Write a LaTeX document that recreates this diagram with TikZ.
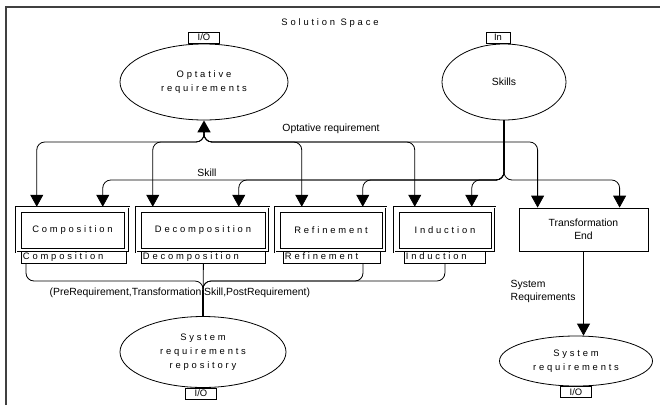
\documentclass[tikz,border=0pt]{standalone}
\usepackage{fontspec}
\setmainfont{Liberation Sans}
\newfontfamily\spaced[LetterSpace=30]{Liberation Sans}
\usetikzlibrary{arrows.meta,shapes.geometric,positioning,calc}
\newcommand{\fs}{\fontsize{9.4}{14}\selectfont}
\newcommand{\fp}{\fontsize{10.4}{13}\selectfont}
\tikzstyle{blob} = [ellipse, draw, fill=white, align=center, inner sep=0pt, font=\fs\spaced]
\tikzstyle{tag} = [draw, fill=white, inner sep=1pt, minimum height=11pt, text height=7pt, text depth=1pt, font=\fs]
\tikzstyle{outer} = [draw, double=white, double distance=0.9pt, line width=0.5pt]
\tikzstyle{inner} = [draw, font=\fs\spaced]
\tikzstyle{lab} = [draw, fill=white, anchor=north west, inner sep=1.5pt, text height=7pt, text depth=1.5pt, align=left, font=\fs\spaced]
\tikzstyle{bus} = [rounded corners=8pt]
\tikzstyle{trunk} = [line width=1.7pt]
\tikzstyle{arrow} = [-{Triangle[width=13pt,length=12pt]}]

\begin{document}
\begin{tikzpicture}[x=1pt,y=-1pt,line width=0.8pt,font=\fp]
\useasboundingbox (0,0) rectangle (660,405);
\draw[line width=1.3pt, black!75] (6,405) -- (6,7) -- (660,7);
\node[font=\fs] (title) at (330,23) {\spaced Solution Space};
% stores at the top
\node[blob, minimum width=168pt, minimum height=76pt] (optreq) at (204,82) {Optative\\requirements};
\node[tag, anchor=south, minimum width=31pt] (opttag) at (optreq.north) {I/O};
\node[blob, font=\fp, minimum width=124pt, minimum height=76pt] (skills) at (504,82) {Skills};
\node[tag, anchor=south, minimum width=24pt] (skilltag) at ($(skills.north)+(-6,0)$) {In};
% transformations
\node[outer, minimum width=113pt, minimum height=45pt] (comp) at (72.5,229.5) {};
\node[inner, minimum width=103pt, minimum height=36pt] (compin) at (72.5,230) {Composition};
\node[lab, text width=102pt] (complab) at (21,251) {Composition};
\node[outer, minimum width=133pt, minimum height=45pt] (decomp) at (202.5,229.5) {};
\node[inner, minimum width=124pt, minimum height=36pt] (decompin) at (203,230) {Decomposition};
\node[lab, text width=121pt] (decomplab) at (141,251) {Decomposition};
\node[outer, minimum width=111pt, minimum height=45pt] (refine) at (330.5,229.5) {};
\node[inner, minimum width=102pt, minimum height=36pt] (refinein) at (331,230) {Refinement};
\node[lab, text width=94pt] (refinelab) at (283,251) {Refinement};
\node[outer, minimum width=101pt, minimum height=45pt] (induct) at (444.5,229.5) {};
\node[inner, minimum width=92pt, minimum height=36pt] (inductin) at (445,230) {Induction};
\node[lab, text width=78pt] (inductlab) at (404,251) {Induction};
\node[draw, align=center, minimum width=129pt, minimum height=43pt] (tend) at (583.5,229.5) {Transformation\\End};
% stores at the bottom
\node[blob, minimum width=166pt, minimum height=71pt] (repell) at (203,352) {System\\requirements\\repository};
\node[tag, anchor=north, minimum width=31pt] (reptag) at ($(repell.south)+(-2,0)$) {I/O};
\node[blob, minimum width=153pt, minimum height=50pt] (sysreq) at (576,361) {System\\requirements};
\node[tag, anchor=north, minimum width=31pt] (systag) at (sysreq.south) {I/O};
% labels
\node (optlab) at (331,129) {Optative requirement};
\node (skilllab) at (207,173) {Skill};
\node[anchor=west] (tuple) at (46,293) {(PreRequirement,Transformation,Skill,PostRequirement)};
\node[anchor=west, align=left] (syslab) at (507,291) {System\\Requirements};
% junctions and ends
\coordinate (optj) at (204,132);
\coordinate (skj) at (504,170);
\coordinate (compo) at ($(comp.north west)+(21,0)$);
\coordinate (comps) at ($(comp.north west)+(87,0)$);
\coordinate (decompo) at ($(decomp.north west)+(17,0)$);
\coordinate (decomps) at ($(decomp.north west)+(103,0)$);
\coordinate (refo) at ($(refine.north west)+(27,0)$);
\coordinate (refs) at ($(refine.north west)+(88,0)$);
\coordinate (indo) at ($(induct.north west)+(21,0)$);
\coordinate (inds) at ($(induct.north west)+(78,0)$);
\coordinate (tendo) at ($(tend.north west)+(19,0)$);
\coordinate (tends) at ($(tend.north west)+(101,0)$);
\coordinate (compout) at ($(complab.south west)+(5,0)$);
\coordinate (refout) at ($(refinelab.south west)+(80,0)$);
\coordinate (repj) at (203,281);
\coordinate (repk) at (203,290);
% optative requirement
\draw[trunk, arrow] (optj) -- (optreq);
\foreach \t in {compo,decompo,refo,indo,tendo}
  \draw[bus, arrow] (optj) -- ++(0,10) -| (\t);
% skill
\draw[trunk] (skills) -- (skj);
\foreach \t in {comps,decomps,refs,inds,tends}
  \draw[bus, arrow] (skj) -- ++(0,10) -| (\t);
% into the repository
\draw[bus] (compout) |- (repj) -- (repell);
\draw (decomplab) -- (repell);
\draw[bus] (refout) |- (repj) -- (repell);
\draw[bus] (inductlab.south) |- (repj) -- (repell);
\draw[trunk] (repk) -- (repell);
\draw[arrow] (tend.south) -- (tend.south |- sysreq.north);
\end{tikzpicture}
\end{document}
